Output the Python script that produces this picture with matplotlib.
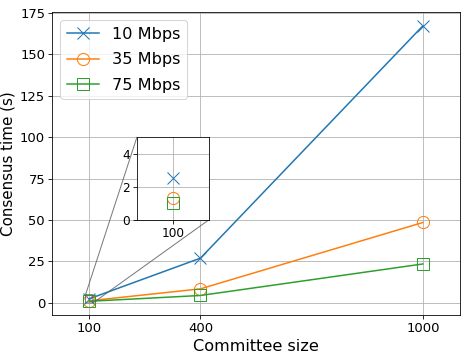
import numpy as np
import matplotlib.pyplot as plt

sizes = [100, 400, 1000]
labels = ['10 Mbps', '35 Mbps', '75 Mbps']
t_10 = [2.5, 27.0, 167.0]
t_35 = [1.3, 8.5, 48.5]
t_75 = [1.0, 4.5, 23.5]
markers = ['x', 'o', 's']

# figure a dpi reduit pour garder les proportions du rendu d'origine
dpi = 72.8
fig, ax = plt.subplots(figsize=(466 / dpi, 356 / dpi), dpi=dpi)
fig.subplots_adjust(left=0.112, right=0.987, top=0.966, bottom=0.115)

series = [t_10, t_35, t_75]
for vals, lab, m in zip(series, labels, markers):
    ax.plot(sizes, vals, marker=m, markersize=12, markerfacecolor='none',
            label=lab)

ax.set_xlim(0, 1100)
ax.set_xticks(sizes)
ax.set_xticklabels([str(s) for s in sizes])
ax.tick_params(labelsize=13)
ax.set_xlabel('Committee size', fontsize=16)
ax.set_ylabel('Consensus time (s)', fontsize=15)
ax.grid(True)
ax.legend(loc='upper left', fontsize=16, labelspacing=0.65)

# zoom sur le point 100
axins = ax.inset_axes([0.208, 0.314, 0.176, 0.274])
for vals, m in zip(series, markers):
    axins.plot(sizes, vals, marker=m, markersize=12, markerfacecolor='none',
               linestyle='none')
axins.set_xlim(90, 110)
axins.set_ylim(0, 5)
axins.set_xticks([100])
axins.set_yticks([0, 2, 4])
axins.tick_params(labelsize=12)
axins.grid(True)
ind = ax.indicate_inset_zoom(axins, edgecolor='0.35', alpha=0.8)
for c, vis in zip(ind.connectors, [False, True, True, False]):
    c.set_visible(vis)

plt.savefig('out.png', dpi=dpi)
